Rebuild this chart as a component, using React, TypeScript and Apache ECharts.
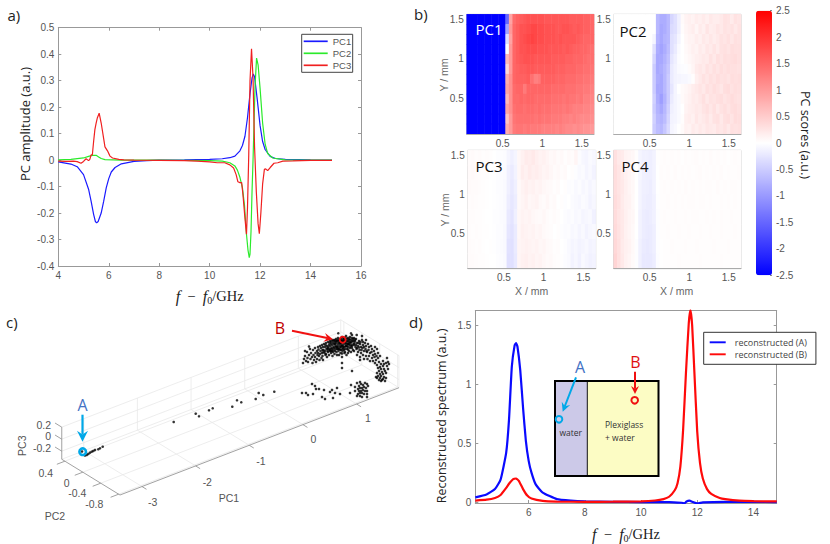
import React, { useEffect, useRef } from "react";
import * as echarts from "echarts";

// ---------- Panel a: principal component spectra ----------
const pc1Freq = [4, 4.5, 4.75, 5, 5.2, 5.3, 5.4, 5.47, 5.52, 5.58, 5.7, 5.8, 5.9, 6, 6.1, 6.25, 6.5, 7, 7.5, 8, 9, 10, 10.5, 10.8, 11, 11.2, 11.3, 11.4, 11.5, 11.6, 11.68, 11.73, 11.78, 11.88, 12, 12.1, 12.2, 12.4, 12.6, 13, 14, 14.85];
const pc1Amp = [-0.007, -0.015, -0.025, -0.055, -0.11, -0.155, -0.205, -0.232, -0.237, -0.232, -0.2, -0.155, -0.105, -0.07, -0.045, -0.028, -0.014, -0.005, -0.002, 0, 0.001, 0.003, 0.005, 0.009, 0.015, 0.035, 0.055, 0.09, 0.16, 0.25, 0.31, 0.325, 0.315, 0.235, 0.13, 0.07, 0.04, 0.014, 0.006, 0.003, 0.001, 0];
const pc2Freq = [4, 4.5, 5, 5.2, 5.35, 5.5, 5.6, 5.7, 5.85, 6.5, 8, 9, 10, 10.5, 10.8, 11, 11.1, 11.2, 11.3, 11.38, 11.46, 11.52, 11.57, 11.6, 11.64, 11.68, 11.72, 11.76, 11.8, 11.86, 11.92, 12, 12.1, 12.2, 12.3, 12.5, 13, 14.85];
const pc2Amp = [0.001, 0.003, 0.008, 0.014, 0.018, 0.018, 0.012, 0.006, 0.002, 0, 0, -0.001, -0.002, -0.004, -0.01, -0.022, -0.038, -0.065, -0.105, -0.17, -0.28, -0.34, -0.368, -0.355, -0.27, -0.12, 0, 0.14, 0.28, 0.385, 0.36, 0.27, 0.14, 0.06, 0.025, 0.008, 0.001, 0];
const pc3Freq = [4, 4.3, 4.6, 4.75, 4.9, 5, 5.1, 5.2, 5.25, 5.3, 5.35, 5.4, 5.45, 5.5, 5.55, 5.62, 5.7, 5.8, 5.85, 5.95, 6.05, 6.15, 6.4, 6.6, 7, 8, 9, 9.5, 10, 10.3, 10.6, 10.8, 10.95, 11.05, 11.12, 11.2, 11.27, 11.32, 11.4, 11.46, 11.5, 11.55, 11.6, 11.66, 11.72, 11.78, 11.85, 11.92, 11.97, 12.03, 12.1, 12.17, 12.22, 12.3, 12.4, 12.55, 12.7, 12.9, 13.3, 14, 14.85];
const pc3Amp = [-0.004, -0.005, -0.004, -0.006, -0.012, -0.005, 0.005, -0.002, 0.003, 0.02, 0.02, 0.07, 0.115, 0.14, 0.16, 0.177, 0.14, 0.08, 0.05, 0.035, 0.015, 0.008, 0.003, 0.001, 0, -0.001, -0.002, -0.004, -0.007, -0.01, -0.01, -0.018, -0.03, -0.055, -0.082, -0.085, -0.085, -0.13, -0.22, -0.28, -0.18, 0.02, 0.3, 0.42, 0.31, 0.05, -0.12, -0.24, -0.278, -0.2, -0.09, -0.035, -0.033, -0.04, -0.028, -0.012, -0.01, -0.004, -0.003, -0.001, -0.001];

// ---------- Panel b: PC score maps (rows top to bottom, columns left to right) ----------
const pc1Scores = [
  [-2.5,-2.5,-2.5,-2.5,-2.5,-2.5,-2.5,-2.5,-2.5,-2.5,-2.5,-1.5,0.9,1.45,1.55,1.6,1.65,1.7,1.7,1.7,1.7,1.7,1.65,1.65,1.65,1.65,1.65,1.65,1.65,1.6,1.6,1.6,1.6,1.55,1.55,1.5],
  [-2.5,-2.5,-2.5,-2.5,-2.5,-2.5,-2.5,-2.5,-2.5,-2.5,-2.5,-0.9,1,1.5,1.6,1.7,1.7,1.75,1.8,1.8,1.75,1.75,1.7,1.7,1.7,1.65,1.65,1.7,1.7,1.65,1.6,1.65,1.6,1.55,1.55,1.5],
  [-2.5,-2.5,-2.5,-2.5,-2.5,-2.5,-2.5,-2.5,-2.5,-2.5,-2.5,-0.3,0.9,1.5,1.6,1.7,1.75,1.8,1.85,1.8,1.75,1.75,1.7,1.7,1.7,1.65,1.7,1.65,1.65,1.65,1.65,1.6,1.55,1.5,1.5,1.5],
  [-2.5,-2.5,-2.5,-2.5,-2.5,-2.5,-2.5,-2.5,-2.5,-2.5,-2.5,0,1,1.5,1.6,1.7,1.7,1.75,1.75,1.75,1.7,1.7,1.7,1.65,1.65,1.65,1.65,1.6,1.65,1.6,1.55,1.55,1.5,1.5,1.45,1.4],
  [-2.5,-2.5,-2.5,-2.5,-2.5,-2.5,-2.5,-2.5,-2.5,-2.5,-2.5,0.7,1,1.5,1.6,1.65,1.7,1.7,1.7,1.65,1.65,1.65,1.65,1.65,1.6,1.6,1.6,1.6,1.55,1.55,1.5,1.5,1.5,1.45,1.4,1.4],
  [-2.5,-2.5,-2.5,-2.5,-2.5,-2.5,-2.5,-2.5,-2.5,-2.5,-2.5,0.4,1,1.5,1.55,1.6,1.6,1.65,1.65,1.6,1.6,1.6,1.6,1.6,1.6,1.55,1.55,1.55,1.5,1.5,1.5,1.45,1.45,1.4,1.4,1.35],
  [-2.5,-2.5,-2.5,-2.5,-2.5,-2.5,-2.5,-2.5,-2.5,-2.5,-2.5,0.8,1.1,1.5,1.55,1.55,1.55,1.6,1.4,1.25,1.3,1.55,1.55,1.55,1.55,1.5,1.5,1.5,1.45,1.45,1.45,1.4,1.4,1.35,1.35,1.3],
  [-2.5,-2.5,-2.5,-2.5,-2.5,-2.5,-2.5,-2.5,-2.5,-2.5,-2.5,0.9,1.1,1.45,1.5,1.5,1.3,1.5,1.5,1.5,1.5,1.5,1.5,1.5,1.45,1.45,1.45,1.45,1.4,1.4,1.4,1.35,1.35,1.3,1.3,1.25],
  [-2.5,-2.5,-2.5,-2.5,-2.5,-2.5,-2.5,-2.5,-2.5,-2.5,-2.5,0.7,1.1,1.45,1.45,1.5,1.45,1.5,1.5,1.45,1.45,1.45,1.45,1.45,1.4,1.4,1.4,1.35,1.4,1.35,1.35,1.3,1.35,1.25,1.25,1.2],
  [-2.5,-2.5,-2.5,-2.5,-2.5,-2.5,-2.5,-2.5,-2.5,-2.5,-2.5,0.9,1.1,1.4,1.45,1.45,1.4,1.45,1.45,1.4,1.45,1.4,1.4,1.4,1.35,1.35,1.35,1.3,1.35,1.3,1.25,1.25,1.25,1.2,1.2,1.15],
  [-2.5,-2.5,-2.5,-2.5,-2.5,-2.5,-2.5,-2.5,-2.5,-2.5,-2.5,0.6,1,1.35,1.4,1.4,1.4,1.4,1.4,1.35,1.4,1.35,1.35,1.35,1.3,1.3,1.3,1.25,1.25,1.2,1.25,1.2,1.15,1.15,1.15,1.1],
  [-2.5,-2.5,-2.5,-2.5,-2.5,-2.5,-2.5,-2.5,-2.5,-2.5,-2.5,0.8,1,1.3,1.35,1.35,1.3,1.35,1.3,1.3,1.3,1.25,1.25,1.25,1.25,1.2,1.25,1.2,1.15,1.15,1.1,1.15,1.1,1.05,1.05,1],
];
const pc2Scores = [
  [0,0,0,0,0,0,0,0,0,0,0,0,-0.7,-0.8,-0.8,-0.7,-0.4,-0.3,-0.15,0.05,0.12,0.15,0.12,0.18,0.15,0.2,0.15,0.22,0.18,0.18,0.22,0.28,0.26,0.2,0.28,0.25],
  [0,0,0,0,0,0,0,0,0,0,0,0,-0.7,-0.85,-0.8,-0.7,-0.35,-0.3,-0.15,0.03,0.1,0.14,0.18,0.1,0.2,0.15,0.25,0.18,0.2,0.25,0.22,0.28,0.25,0.28,0.22,0.28],
  [0,0,0,0,0,0,0,0,0,0,0,-0.1,-0.75,-0.85,-0.75,-0.7,-0.3,-0.25,-0.1,0,0.08,0.12,0.12,0.18,0.14,0.22,0.18,0.24,0.18,0.22,0.28,0.25,0.3,0.24,0.3,0.28],
  [0,0,0,0,0,0,0,0,0,0,0,-0.3,-0.8,-0.9,-0.8,-0.65,-0.3,-0.2,-0.05,0,0.06,0.1,0.15,0.12,0.2,0.16,0.24,0.2,0.26,0.2,0.28,0.3,0.26,0.32,0.3,0.3],
  [0,0,0,0,0,0,0,0,0,0,0,-0.4,-0.85,-0.85,-0.75,-0.6,-0.25,-0.15,-0.03,0,0.04,0.08,0.12,0.16,0.18,0.22,0.2,0.28,0.22,0.3,0.26,0.32,0.3,0.32,0.34,0.3],
  [0,0,0,0,0,0,0,0,0,0,0,-0.5,-0.85,-0.8,-0.7,-0.55,-0.2,-0.12,-0.05,-0.03,-0.02,0.04,0.1,0.2,0.24,0.2,0.28,0.24,0.3,0.25,0.32,0.28,0.32,0.3,0.3,0.28],
  [0,0,0,0,0,0,0,0,0,0,0,-0.5,-0.8,-0.85,-0.7,-0.5,-0.2,-0.12,-0.1,-0.08,-0.08,-0.05,0.02,0.16,0.22,0.28,0.24,0.3,0.26,0.32,0.28,0.3,0.26,0.32,0.3,0.32],
  [0,0,0,0,0,0,0,0,0,0,0,-0.5,-0.85,-0.85,-0.7,-0.5,-0.25,-0.1,0,0.05,0.08,0.12,0.18,0.22,0.26,0.22,0.3,0.26,0.32,0.28,0.24,0.32,0.34,0.28,0.32,0.3],
  [0,0,0,0,0,0,0,0,0,0,0,-0.45,-0.8,-0.95,-0.75,-0.5,-0.2,-0.1,-0.05,0.05,0.1,0.14,0.2,0.18,0.24,0.3,0.22,0.28,0.26,0.3,0.32,0.26,0.3,0.34,0.3,0.28],
  [0,0,0,0,0,0,0,0,0,0,0,-0.5,-0.75,-0.85,-0.7,-0.45,-0.15,-0.1,-0.05,0,0.12,0.16,0.18,0.22,0.2,0.26,0.3,0.24,0.3,0.22,0.28,0.32,0.26,0.32,0.34,0.3],
  [0,0,0,0,0,0,0,0,0,0,0,-0.45,-0.7,-0.75,-0.65,-0.4,-0.12,-0.1,-0.05,0.02,0.15,0.18,0.14,0.24,0.18,0.22,0.26,0.2,0.28,0.3,0.22,0.3,0.32,0.26,0.34,0.32],
  [0,0,0,0,0,0,0,0,0,0,0,-0.5,-0.65,-0.7,-0.55,-0.35,-0.1,-0.06,0,0.05,0.14,0.12,0.2,0.16,0.22,0.18,0.24,0.22,0.2,0.26,0.24,0.28,0.22,0.3,0.28,0.3],
];
const pc3Scores = [
  [0.04,0.05,0.03,0.04,0.02,0.03,0.02,0,-0.02,-0.02,-0.03,-0.1,-0.15,-0.1,0.08,0.14,0.2,0.18,0.22,0.16,0.12,0.14,0.1,0.06,0.08,0.04,0.06,0.02,0.05,0.03,0.1,-0.03,-0.08,-0.1,-0.05,-0.08],
  [0.05,0.06,0.04,0.03,0.02,0.02,0,0,-0.02,-0.03,-0.04,-0.15,-0.2,-0.12,0.08,0.18,0.14,0.2,0.16,0.18,0.14,0.1,0.12,0.08,0.04,0.06,0.03,0.05,0,0.02,-0.02,-0.06,-0.04,-0.1,-0.06,-0.12],
  [0.05,0.04,0.04,0.03,0.02,0.01,0,-0.01,-0.03,-0.03,-0.05,-0.15,-0.22,-0.15,0.06,0.12,0.16,0.12,0.14,0.1,0.12,0.08,0.06,0.05,0.02,0.04,0,0.02,-0.03,-0.02,-0.06,-0.03,-0.08,-0.05,-0.1,-0.06],
  [0.03,0.04,0.03,0.02,0.02,0.01,0,-0.01,-0.02,-0.03,-0.05,-0.18,-0.24,-0.18,0.06,0.1,0.14,0.08,0.1,0.12,0.06,0.04,0.08,0.03,0.05,0,0.02,-0.02,0,-0.04,-0.06,-0.08,-0.04,-0.06,-0.12,-0.08],
  [0.03,0.03,0.02,0.02,0.01,0,0,-0.02,-0.02,-0.04,-0.05,-0.22,-0.26,-0.15,0.08,0.12,0.1,0.12,0.08,0.06,0.05,0.08,0.04,0.02,0.04,0.02,0,-0.03,-0.05,-0.03,-0.07,-0.05,-0.1,-0.08,-0.06,-0.14],
  [0.03,0.02,0.03,0.02,0.01,0.01,0,-0.01,-0.03,-0.03,-0.06,-0.25,-0.28,-0.2,0.08,0.14,0.12,0.1,0.12,0.08,0.1,0.06,0.04,0.03,0,0.02,-0.02,-0.04,-0.03,-0.07,-0.05,-0.1,-0.06,-0.12,-0.08,-0.06],
  [0.04,0.03,0.02,0.03,0.01,0,0.01,-0.01,-0.03,-0.04,-0.06,-0.28,-0.3,-0.2,0.1,0.12,0.14,0.12,0.1,0.12,0.08,0.1,0.06,0.05,0.02,0.03,0,-0.02,-0.06,-0.1,-0.08,-0.12,-0.1,-0.07,-0.12,-0.1],
  [0.04,0.04,0.03,0.02,0.02,0.01,0,0,-0.02,-0.03,-0.05,-0.3,-0.3,-0.22,0.1,0.14,0.16,0.12,0.14,0.1,0.12,0.08,0.05,0.06,0.03,0.02,0.01,-0.03,-0.05,-0.12,-0.08,-0.14,-0.06,-0.1,-0.14,-0.12],
];
const pc4Scores = [
  [0.3,0.22,0.2,0.12,0.1,0.08,0.02,-0.1,-0.14,-0.14,-0.16,-0.12,0.01,0.02,0.03,0.02,0.03,0.02,0.03,0.01,0.03,0.02,0.03,0.04,0.02,0.03,0.02,0.04,0.02,0.03,0.02,0.03,0.01,0.02,0.03,0.02],
  [0.32,0.25,0.2,0.14,0.1,0.06,0,-0.08,-0.14,-0.16,-0.16,-0.12,0,0.03,0.02,0.03,0.02,0.04,0.02,0.03,0.02,0.03,0.02,0.03,0.04,0.02,0.03,0.02,0.03,0.02,0.04,0.02,0.03,0.02,0.02,0.03],
  [0.32,0.26,0.22,0.15,0.1,0.07,0,-0.1,-0.15,-0.16,-0.18,-0.12,0,0.02,0.03,0.02,0.03,0.02,0.03,0.02,0.04,0.02,0.03,0.02,0.03,0.02,0.03,0.03,0.02,0.04,0.02,0.03,0.02,0.03,0.03,0.02],
  [0.34,0.28,0.2,0.14,0.12,0.06,0,-0.1,-0.16,-0.18,-0.18,-0.14,-0.01,0.02,0.02,0.03,0.02,0.03,0.02,0.03,0.02,0.03,0.03,0.02,0.03,0.03,0.02,0.03,0.02,0.02,0.03,0.02,0.03,0.02,0.03,0.02],
  [0.34,0.26,0.22,0.15,0.1,0.08,0,-0.12,-0.18,-0.2,-0.18,-0.14,-0.02,0.02,0.03,0.02,0.02,0.03,0.02,0.02,0.03,0.02,0.03,0.03,0.02,0.02,0.03,0.02,0.03,0.02,0.03,0.02,0.02,0.03,0.02,0.02],
  [0.36,0.28,0.22,0.14,0.1,0.06,0,-0.12,-0.18,-0.2,-0.2,-0.16,-0.02,0.02,0.02,0.03,0.02,0.02,0.03,0.02,0.02,0.03,0.02,0.02,0.03,0.02,0.02,0.03,0.02,0.02,0.03,0.02,0.02,0.02,0.03,0.02],
  [0.38,0.3,0.2,0.15,0.12,0.06,-0.02,-0.14,-0.2,-0.22,-0.2,-0.16,-0.02,0.01,0.02,0.02,0.03,0.02,0.02,0.02,0.03,0.02,0.02,0.03,0.02,0.02,0.02,0.02,0.03,0.02,0.02,0.02,0.03,0.02,0.02,0.02],
  [0.42,0.3,0.22,0.14,0.1,0.05,-0.02,-0.14,-0.22,-0.22,-0.22,-0.18,-0.03,0.01,0.02,0.02,0.02,0.02,0.03,0.02,0.02,0.02,0.02,0.02,0.03,0.02,0.02,0.02,0.02,0.02,0.03,0.02,0.02,0.02,0.02,0.02],
];
const pcScoreTitles = ["PC1", "PC2", "PC3", "PC4"];
const mapTicks = [0.5, 1, 1.5];

// ---------- Panel c: flattened 3-D view of the scores, read in view units ----------
const clusterA = [[82,451.5],[86.7,455],[85,455.5],[88.3,454],[90,452.7],[91.7,451.7],[93.3,451],[95,450],[98.3,449.3],[100,448.3],[102.7,446.7]];
const sparseBridge = [[173.7,422],[195.7,413.7],[199,416.3],[209,410.3],[212.7,408.3],[232.3,406.7],[237,400.3],[241.3,402.3],[255.7,399],[258.7,393],[263.3,395],[274.3,391.7]];
const lowerBand = [[312,384],[315,386],[319,389],[324,390],[316,389],[313,394],[306,393],[302,393],[308,395],[322,397],[325,399],[333,398],[335,393],[330,392],[332,390],[337,388],[340,394],[350,393],[351,385],[355,387],[357,383],[360,382],[359,386],[361,384],[363,385],[365,383],[367,384],[358,389],[360,388],[362,388],[364,387],[366,388],[368,386],[359,391],[361,391],[363,390],[365,391],[367,391],[358,394],[360,393],[362,393],[364,394],[367,394],[360,396],[362,397],[367,397],[355,391],[357,396],[342,363],[342,368],[352,371],[342,357],[360,360]];
const cloudLeft = [[303,363],[304,359],[305,356],[306,361],[307,352],[307.5,358],[308,362],[309,355],[310,349],[310.5,359],[311,353],[312,357],[312.5,363],[313,350],[313.5,355],[314,360],[315,348],[315.5,353],[315,357],[316,362],[317,351],[317.5,355],[317,359],[318,347],[318.5,349.5],[318,353],[319,356],[319.5,360],[320,346],[320.5,351],[320,354],[321,348],[321.5,358],[322,345],[322.5,350],[322,353],[322.5,356],[323,347],[323.5,352],[323,360],[305,351],[309,346.5]];
const cloudCentre = [[324,344],[325,347],[323.5,350],[324.5,353],[325.5,355],[326,343],[327,346],[326.5,349],[327.5,351],[326,354],[327,357],[328,342],[329,345],[328.5,347],[329.5,350],[328,352],[329,355],[330,341],[331,344],[330.5,346],[331.5,348],[330,351],[331,353],[332,340],[333,343],[332.5,345],[333.5,347],[332,349],[333,352],[332.5,356],[334,340],[335,342],[334.5,344],[335.5,346],[334,348],[335,351],[334.5,354],[336,339],[337,341],[336.5,343],[337.5,345],[336,347],[337,349],[336.5,352],[338,338],[339,341],[338.5,343],[339.5,345],[338,347],[339,349],[338.5,351],[339,355],[340,339],[341,341],[340.5,343],[341.5,345],[340,347],[341,350],[340.5,353],[342,337],[343,340],[342.5,342],[343.5,344],[342,346],[343,348],[342.5,351],[344,338],[345,340],[344.5,342],[345.5,344],[344,347],[345,349],[344.5,353],[346,336],[347,339],[346.5,341],[347.5,344],[346,346],[347,349],[346.5,355],[348,338],[349,340],[348.5,342],[349.5,345],[348,347],[349,351],[350,337],[351,340],[350.5,343],[351.5,345],[350,348],[351,352],[352,335],[353,339],[352.5,341],[353.5,344],[352,346],[353,350],[354,338],[355,341],[354.5,343],[355.5,347],[354,351],[338.3,333.3],[351,333.3],[356.7,335]];
const cloudFill = [[325.5,345],[327.5,348],[325,351],[329.5,343],[331,342],[330,349],[333,341],[332,351],[335,340.5],[333.5,350],[335.5,349],[336.5,341],[338,340],[337,347],[340,341],[339.5,343],[338,349],[341,339],[342,341],[341,343],[341,347],[340,349.5],[343.5,338.5],[344,341],[343,346],[342.5,349],[345.5,338],[346,343],[345.5,346.5],[344,350],[347.5,341],[348,344],[347,346],[348,349.5],[349.5,339],[350,342],[349,344],[350.5,346.5],[352,338],[351.5,342],[352,348],[353.5,341],[354,345],[355,339.5],[356,345],[357,348],[358.5,343],[359,347.5],[360.5,342],[361.5,350],[364,347],[366.5,351],[363,342],[328,349],[335,344],[331,351],[345,352],[337,355],[342,353.5],[348,353]];
const cloudRight = [[356,339],[357,343],[358,346],[356.5,349],[358,352],[357,355],[359,341],[360,344],[361,347],[359.5,350],[361,353],[360,357],[362,340],[363,345],[362.5,348],[364,351],[363,355],[365,343],[366,346],[365.5,349],[367,352],[366,356],[364,359],[368,344],[369,347],[368.5,350],[370,353],[369,356],[367.5,359],[371,346],[372,349],[371.5,352],[373,355],[372,358],[370,361],[374,351],[375,354],[374.5,357],[376,360],[373,361],[377,349],[378,353],[376.5,356],[375,363],[362,336],[366,340],[375,347]];
const cloudTail = [[378,358],[380,356],[383,361],[387,358],[379,362],[381,364],[384,364],[377,365],[380,367],[383,366],[386,363],[388,362],[378,368],[381,369],[384,369],[387,366],[389,364],[379,371],[382,372],[385,371],[388,369],[377,373],[380,374],[383,374],[386,373],[378,376],[381,376],[384,377],[380,378],[377,378],[383,379],[386,378],[379,380],[381,381],[385,381],[376,377],[382,380]];
const pc1Ticks = [-3, -2, -1, 0, 1];
const pc2Ticks = [-0.8, -0.4, 0, 0.4];
const pc3Ticks = [-0.2, 0, 0.2];
const PC1_MIN = -3.41, PC1_MAX = 1.79, PC2_MIN = -0.83, PC2_MAX = 0.47, PC3_MIN = -0.335, PC3_MAX = 0.2;

// ---------- Panel d: reconstructed spectra ----------
const recAFreq = [4.1, 4.5, 4.8, 5, 5.2, 5.3, 5.4, 5.5, 5.55, 5.6, 5.7, 5.8, 5.9, 6, 6.1, 6.25, 6.5, 7, 7.5, 8, 9, 10, 11, 11.45, 11.55, 11.62, 11.72, 11.85, 12, 12.2, 13, 14, 14.83];
const recA = [0.04, 0.065, 0.11, 0.19, 0.42, 0.7, 1.15, 1.33, 1.35, 1.32, 1.12, 0.8, 0.52, 0.35, 0.25, 0.15, 0.08, 0.025, 0.012, 0.006, 0.002, 0, 0, -0.006, -0.01, 0.005, 0.012, 0, -0.012, -0.003, 0.002, 0.001, 0];
const recBFreq = [4.1, 4.5, 4.8, 5, 5.2, 5.3, 5.45, 5.55, 5.65, 5.8, 5.95, 6.1, 6.5, 7, 8, 9, 10, 10.5, 10.8, 11, 11.2, 11.3, 11.4, 11.5, 11.6, 11.7, 11.76, 11.82, 11.9, 12, 12.1, 12.2, 12.35, 12.5, 12.8, 13, 13.5, 14, 14.83];
const recB = [0.012, 0.02, 0.035, 0.06, 0.12, 0.155, 0.195, 0.2, 0.18, 0.11, 0.055, 0.03, 0.01, 0.004, 0.002, 0.003, 0.006, 0.013, 0.025, 0.045, 0.1, 0.16, 0.3, 0.62, 1.1, 1.52, 1.63, 1.5, 1.1, 0.6, 0.33, 0.2, 0.11, 0.07, 0.035, 0.025, 0.012, 0.008, 0.005];
const recXTicks = [6, 8, 10, 12, 14];
const recYTicks = [0, 0.5, 1, 1.5];

const zip = (xs: number[], ys: number[]) => xs.map((x, i) => [x, ys[i]]);

// oblique projection of the PC1 / PC2 / PC3 box onto the flat view
const project = (a: number, b: number, c: number) => [
  120 + 53.65 * (a - PC1_MIN) - 44.8 * (b - PC2_MIN),
  495 - 20.63 * (a - PC1_MIN) - 27.5 * (b - PC2_MIN) - 60 * (c - PC3_MIN),
];

const SANS = "'Liberation Sans', Arial, sans-serif";
const OPEN = "'Open Sans', sans-serif";
const SERIF = "'Liberation Serif', serif";
const TICK = "#555";
const AXIS = "#999";

const txt = (x: number, y: number, text: string, size: number, color: string, family = SANS, align = "center", rotation = 0) => ({
  type: "text", x, y, rotation, z: 120, silent: true,
  style: { text, fill: color, font: `${size}px ${family}`, textAlign: align, textVerticalAlign: "middle" },
});
const arrow = (x1: number, y1: number, x2: number, y2: number, color: string, w: number, hl: number, hw: number) => {
  const len = Math.hypot(x2 - x1, y2 - y1), ux = (x2 - x1) / len, uy = (y2 - y1) / len;
  const bx = x2 - ux * hl, by = y2 - uy * hl, nx = -uy, ny = ux;
  const nkx = x2 - ux * hl * 0.65, nky = y2 - uy * hl * 0.65;
  return [
    { type: "line", z: 110, silent: true, shape: { x1, y1, x2: nkx, y2: nky }, style: { stroke: color, lineWidth: w } },
    { type: "polygon", z: 110, silent: true, shape: { points: [[x2, y2], [bx + nx * hw, by + ny * hw], [nkx, nky], [bx - nx * hw, by - ny * hw]] }, style: { fill: color } },
  ];
};
const ring = (cx: number, cy: number, r: number, color: string, w: number) => ({
  type: "circle", z: 112, silent: true, shape: { cx, cy, r }, style: { fill: "none", stroke: color, lineWidth: w },
});

const boxAxis = (extra: any) => ({
  type: "value",
  splitLine: { show: false },
  axisLine: { show: true, onZero: false, lineStyle: { color: AXIS, width: 1 } },
  axisTick: { show: true, inside: true, length: 3, lineStyle: { color: AXIS } },
  axisLabel: { show: true, color: TICK, fontFamily: SANS, fontSize: 10, margin: 4 },
  ...extra,
});
const sideAxis = (extra: any) => boxAxis({ ...extra, axisLabel: { show: false } });

export default function App() {
  const ref = useRef<HTMLDivElement>(null);
  useEffect(() => {
    document.body.style.margin = "0";
    const chart = echarts.init(ref.current!, undefined, { renderer: "svg" });

    const maps = [
      { rows: pc1Scores, left: 466.7, top: 14.3, width: 127.3, height: 119.7, xMin: 0.045, xMax: 1.655 },
      { rows: pc2Scores, left: 613.7, top: 14.3, width: 127.3, height: 119.7, xMin: 0.045, xMax: 1.655 },
      { rows: pc3Scores, left: 467.7, top: 150.3, width: 128, height: 118.4, xMin: 0.045, xMax: 1.655 },
      { rows: pc4Scores, left: 613.7, top: 150.3, width: 127.3, height: 118.4, xMin: 0.045, xMax: 1.655 },
    ];

    const GHzRich = { i: { fontFamily: SERIF, fontStyle: "italic", fontSize: 16, color: "#222" }, t: { fontFamily: SERIF, fontSize: 14.5, color: "#222" }, s: { fontFamily: SERIF, fontSize: 10, color: "#222", verticalAlign: "bottom", padding: [8, 0, 0, 0] } };
    const grid: any[] = [{ left: 58.3, top: 27.7, width: 302.7, height: 238.3 }];
    const xAxis: any[] = [
      boxAxis({ gridIndex: 0, min: 4, max: 16, interval: 2, position: "bottom", name: "{i|f}{t|  −  }{i|f}{s|0}{t|/GHz}", nameLocation: "middle", nameGap: 21, nameTextStyle: { rich: GHzRich } }),
      sideAxis({ gridIndex: 0, min: 4, max: 16, interval: 2, position: "top" }),
    ];
    const yAxis: any[] = [
      boxAxis({ gridIndex: 0, min: -0.4, max: 0.5, interval: 0.1, position: "left" }),
      sideAxis({ gridIndex: 0, min: -0.4, max: 0.5, interval: 0.1, position: "right" }),
    ];
    const series: any[] = [
      { name: "PC1", type: "line", xAxisIndex: 0, yAxisIndex: 0, data: zip(pc1Freq, pc1Amp), symbol: "none", lineStyle: { color: "#1a1aff", width: 1.2 }, itemStyle: { color: "#1a1aff" } },
      { name: "PC2", type: "line", xAxisIndex: 0, yAxisIndex: 0, data: zip(pc2Freq, pc2Amp), symbol: "none", lineStyle: { color: "#2bea2b", width: 1.2 }, itemStyle: { color: "#2bea2b" } },
      { name: "PC3", type: "line", xAxisIndex: 0, yAxisIndex: 0, data: zip(pc3Freq, pc3Amp), symbol: "none", lineStyle: { color: "#f02020", width: 1.2 }, itemStyle: { color: "#f02020" } },
    ];

    maps.forEach((m, k) => {
      grid.push({ left: m.left, top: m.top, width: m.width, height: m.height, show: true, borderColor: "#c8c8c8", borderWidth: 1, backgroundColor: "transparent" });
      xAxis.push({ type: "category", gridIndex: k + 1, show: false, position: "top", data: m.rows[0].map((_, j) => String(j)) });
      xAxis.push(boxAxis({ gridIndex: k + 1, position: "bottom", min: m.xMin, max: m.xMax, z: 5, axisLine: { show: true, onZero: false, lineStyle: { color: "#aaa" } }, axisTick: { show: false, customValues: mapTicks }, axisLabel: { show: true, color: TICK, fontFamily: SANS, fontSize: 10, margin: 4, customValues: mapTicks } }));
      yAxis.push({ type: "category", gridIndex: k + 1, show: false, position: "right", inverse: true, data: m.rows.map((_, i) => String(i)) });
      yAxis.push(boxAxis({ gridIndex: k + 1, position: "left", min: 0.06, max: 1.56, z: 5, axisLine: { show: false, onZero: false }, axisTick: { show: false, customValues: mapTicks }, axisLabel: { show: true, color: TICK, fontFamily: SANS, fontSize: 10, margin: 3, customValues: mapTicks } }));
      series.push({
        type: "heatmap", name: pcScoreTitles[k], xAxisIndex: 2 + 2 * k, yAxisIndex: 2 + 2 * k,
        data: m.rows.flatMap((row, i) => row.map((v, j) => [j, i, v])),
        itemStyle: { borderWidth: 0 }, progressive: 0, silent: true,
      });
    });

    // colour bar tick axis (index 10)
    grid.push({ left: 756, top: 10.7, width: 16, height: 264.6 });
    xAxis.push({ type: "value", gridIndex: 5, show: false, min: 0, max: 1 });
    yAxis.push({
      type: "value", gridIndex: 5, position: "right", min: -2.5, max: 2.5, interval: 0.5, splitLine: { show: false },
      axisLine: { show: false, onZero: false }, axisTick: { show: true, inside: true, length: 2, lineStyle: { color: "#888" } },
      axisLabel: { color: TICK, fontFamily: SANS, fontSize: 10, margin: 4 },
    });

    // flat view for panel c (index 11)
    grid.push({ left: 0, top: 0, width: 830, height: 544 });
    xAxis.push({ type: "value", gridIndex: 6, show: false, min: 0, max: 830 });
    yAxis.push({ type: "value", gridIndex: 6, show: false, min: 0, max: 544, inverse: true });
    const vX = 11, vY = 11;
    const seg = (a: number[], b: number[], color: string) => ({
      type: "line", xAxisIndex: vX, yAxisIndex: vY, data: [project(a[0], a[1], a[2]), project(b[0], b[1], b[2])],
      symbol: "none", silent: true, z: 1, lineStyle: { color, width: 0.8 },
    });
    const GRIDC = "#e8e8e8", AX3 = "#8a8a8a";
    const segs: any[] = [];
    pc1Ticks.forEach((t) => {
      segs.push(seg([t, PC2_MIN, PC3_MIN], [t, PC2_MAX, PC3_MIN], GRIDC));
      segs.push(seg([t, PC2_MAX, PC3_MIN], [t, PC2_MAX, PC3_MAX], GRIDC));
    });
    pc2Ticks.forEach((t) => {
      segs.push(seg([PC1_MIN, t, PC3_MIN], [PC1_MAX, t, PC3_MIN], GRIDC));
      segs.push(seg([PC1_MAX, t, PC3_MIN], [PC1_MAX, t, PC3_MAX], GRIDC));
    });
    pc3Ticks.forEach((t) => {
      segs.push(seg([PC1_MIN, PC2_MAX, t], [PC1_MAX, PC2_MAX, t], GRIDC));
      segs.push(seg([PC1_MAX, PC2_MAX, t], [PC1_MAX, PC2_MIN, t], GRIDC));
    });
    segs.push(seg([PC1_MAX, PC2_MAX, PC3_MIN], [PC1_MAX, PC2_MIN, PC3_MIN], GRIDC));
    segs.push(seg([PC1_MIN, PC2_MAX, PC3_MIN], [PC1_MAX, PC2_MAX, PC3_MIN], GRIDC));
    segs.push(seg([PC1_MAX, PC2_MAX, PC3_MIN], [PC1_MAX, PC2_MAX, PC3_MAX], GRIDC));
    segs.push(seg([PC1_MAX, PC2_MIN, PC3_MIN], [PC1_MAX, PC2_MIN, PC3_MAX], GRIDC));
    segs.push(seg([PC1_MIN, PC2_MIN, PC3_MIN], [PC1_MAX, PC2_MIN, PC3_MIN], AX3));
    segs.push(seg([PC1_MIN, PC2_MAX, PC3_MIN], [PC1_MIN, PC2_MIN, PC3_MIN], AX3));
    segs.push(seg([PC1_MIN, PC2_MAX, PC3_MIN], [PC1_MIN, PC2_MAX, PC3_MAX], AX3));
    pc1Ticks.forEach((t) => segs.push(seg([t, PC2_MIN, PC3_MIN], [t, PC2_MIN - 0.1, PC3_MIN], AX3)));
    pc2Ticks.forEach((t) => segs.push(seg([PC1_MIN, t, PC3_MIN], [PC1_MIN - 0.15, t, PC3_MIN], AX3)));
    pc3Ticks.forEach((t) => segs.push(seg([PC1_MIN, PC2_MAX, t], [PC1_MIN, PC2_MAX + 0.15, t], AX3)));
    series.push(...segs);
    series.push({
      type: "scatter", name: "PC scores", xAxisIndex: vX, yAxisIndex: vY, symbol: "circle", symbolSize: 2.6, silent: true, z: 5,
      itemStyle: { color: "#000" },
      data: [...clusterA, ...sparseBridge, ...lowerBand, ...cloudLeft, ...cloudCentre, ...cloudFill, ...cloudRight, ...cloudTail],
    });

    // panel d (indices 12 and 13)
    grid.push({ left: 475.3, top: 310.7, width: 301.4, height: 196.6 });
    const recX = { gridIndex: 7, min: 4.1, max: 14.83 };
    const recY = { gridIndex: 7, min: -0.008, max: 1.624 };
    xAxis.push(boxAxis({ ...recX, position: "bottom", name: "{i|f}{t|  −  }{i|f}{s|0}{t|/GHz}", nameLocation: "middle", nameGap: 22, nameTextStyle: { rich: GHzRich }, axisTick: { show: true, inside: true, length: 3, lineStyle: { color: AXIS }, customValues: recXTicks }, axisLabel: { show: true, color: TICK, fontFamily: SANS, fontSize: 10, margin: 4, customValues: recXTicks } }));
    xAxis.push(sideAxis({ ...recX, position: "top", axisTick: { show: false } }));
    yAxis.push(boxAxis({ ...recY, position: "left", axisTick: { show: true, inside: true, length: 3, lineStyle: { color: AXIS }, customValues: recYTicks }, axisLabel: { show: true, color: TICK, fontFamily: SANS, fontSize: 10, margin: 4, customValues: recYTicks } }));
    yAxis.push(sideAxis({ ...recY, position: "right", axisTick: { show: true, inside: true, length: 3, lineStyle: { color: AXIS }, customValues: recYTicks } }));
    const dX = 12, dY = 12;
    series.push(
      { name: "reconstructed (A)", type: "line", xAxisIndex: dX, yAxisIndex: dY, data: zip(recAFreq, recA), symbol: "none", smooth: 0.15, lineStyle: { color: "#0a0aff", width: 2.2 }, itemStyle: { color: "#0a0aff" } },
      { name: "reconstructed (B)", type: "line", xAxisIndex: dX, yAxisIndex: dY, data: zip(recBFreq, recB), symbol: "none", smooth: 0.15, lineStyle: { color: "#ff0a0a", width: 2.2 }, itemStyle: { color: "#ff0a0a" } },
    );

    const graphic: any[] = [
      txt(7.5, 15, "a)", 15, "#222", OPEN, "left"),
      txt(414, 14, "b)", 15, "#222", OPEN, "left"),
      txt(6, 322, "c)", 15, "#222", OPEN, "left"),
      txt(409, 322, "d)", 15, "#222", OPEN, "left"),
      txt(25, 124, "PC amplitude (a.u.)", 13, "#222", OPEN, "center", Math.PI / 2),
      txt(441.7, 416, "Reconstructed spectrum (a.u.)", 12.5, "#222", OPEN, "center", Math.PI / 2),
      txt(805, 135, "PC scores (a.u.)", 12.5, "#222", OPEN, "center", -Math.PI / 2),
      txt(489, 29, pcScoreTitles[0], 15, "#fff", OPEN),
      txt(633, 31, pcScoreTitles[1], 15, "#111", OPEN),
      txt(489, 166, pcScoreTitles[2], 15, "#111", OPEN),
      txt(635, 166, pcScoreTitles[3], 15, "#111", OPEN),
      txt(444, 75, "Y / mm", 10.5, "#666", SANS, "center", Math.PI / 2),
      txt(445, 210, "Y / mm", 10.5, "#666", SANS, "center", Math.PI / 2),
      txt(531.7, 290.5, "X / mm", 10.5, "#666"),
      txt(676.7, 290.5, "X / mm", 10.5, "#666"),
      // panel c tick labels
      txt(152.7, 502.3, "-3", 10.5, TICK), txt(207.3, 482, "-2", 10.5, TICK), txt(261, 460.7, "-1", 10.5, TICK), txt(313.3, 439.3, "0", 10.5, TICK), txt(368, 418.3, "1", 10.5, TICK),
      txt(229, 498.3, "PC1", 10.5, TICK),
      txt(45.7, 472.7, "0.4", 10.5, TICK), txt(66.7, 483.3, "0", 10.5, TICK), txt(77.3, 493.3, "-0.4", 10.5, TICK), txt(94.3, 504, "-0.8", 10.5, TICK),
      txt(55, 515.7, "PC2", 10.5, TICK),
      txt(51, 424.7, "0.2", 10.5, TICK, SANS, "right"), txt(51, 436, "0", 10.5, TICK, SANS, "right"), txt(51, 447.7, "-0.2", 10.5, TICK, SANS, "right"),
      txt(21.7, 445.7, "PC3", 10.5, TICK, SANS, "center", Math.PI / 2),
      // panel c markers
      txt(82.5, 405, "A", 16, "#4472c4", OPEN),
      txt(280, 328, "B", 16, "#c00000", OPEN),
      ...arrow(82.5, 414.7, 82.5, 441.7, "#00a8e8", 2.2, 11, 5.5),
      ring(82.7, 451.7, 3.3, "#00a8e8", 2.6),
      ...arrow(292, 330.7, 333, 339.3, "#f01010", 2, 9, 4.5),
      ring(342.7, 339.7, 3, "#f01010", 1.8),
      // panel d inset
      { type: "rect", z: 100, silent: true, shape: { x: 555.5, y: 381.5, width: 32, height: 94 }, style: { fill: "#ccc9e8" } },
      { type: "rect", z: 100, silent: true, shape: { x: 587.5, y: 381.5, width: 70.5, height: 94 }, style: { fill: "#fcfcc4" } },
      { type: "line", z: 101, silent: true, shape: { x1: 587.3, y1: 381, x2: 587.3, y2: 476 }, style: { stroke: "#111", lineWidth: 1 } },
      { type: "rect", z: 102, silent: true, shape: { x: 555, y: 381, width: 103.5, height: 95 }, style: { fill: "none", stroke: "#000", lineWidth: 2 } },
      txt(570.7, 432.7, "water", 8.5, "#333", OPEN),
      txt(605, 424.7, "Plexiglass", 8.5, "#333", OPEN, "left"),
      txt(605, 437.5, "+ water", 8.5, "#333", OPEN, "left"),
      txt(580, 366.7, "A", 16, "#4472c4", OPEN),
      txt(635.3, 361.5, "B", 16, "#e01010", OPEN),
      ...arrow(576, 377.3, 562.7, 411.7, "#00a8e8", 2, 9, 4.5),
      ring(559, 419.3, 3.3, "#00a8e8", 2),
      ...arrow(635, 371.7, 635, 394, "#f01010", 2, 8, 4),
      ring(634.7, 400.3, 3.3, "#f01010", 2),
    ];

    chart.setOption({
      animation: false,
      backgroundColor: "#fff",
      grid, xAxis, yAxis, series, graphic,
      visualMap: {
        type: "continuous", seriesIndex: [3, 4, 5, 6], min: -2.5, max: 2.5, show: true, calculable: false, hoverLink: false,
        left: 756, top: 10.7, itemWidth: 16, itemHeight: 264.6, padding: 0, inRange: { color: ["#0000ff", "#ffffff", "#ff0000"] },
      },
      legend: [
        {
          data: ["PC1", "PC2", "PC3"], orient: "vertical", left: 301.7, top: 34.3, selectedMode: false, align: "left",
          icon: "path://M0,0H100V7H0Z",
          itemWidth: 24, itemHeight: 9, itemGap: 2, padding: [2, 1.5, 2, 2], backgroundColor: "#fff", borderColor: "#444", borderWidth: 1,
          textStyle: { color: TICK, fontFamily: SANS, fontSize: 9.5, lineHeight: 9 },
        },
        {
          data: ["reconstructed (A)", "reconstructed (B)"], orient: "vertical", left: 703.7, top: 332.3, selectedMode: false, align: "left",
          icon: "path://M0,0H100V12H0Z",
          itemWidth: 16, itemHeight: 10, itemGap: 2, padding: [5, 9, 5, 6], backgroundColor: "#fff", borderColor: "#333", borderWidth: 1,
          textStyle: { color: "#444", fontFamily: OPEN, fontSize: 9, lineHeight: 10, padding: [0, 0, 0, 4] },
        },
      ],
    });
    return () => chart.dispose();
  }, []);
  return <div ref={ref} style={{ width: 830, height: 544 }} />;
}
